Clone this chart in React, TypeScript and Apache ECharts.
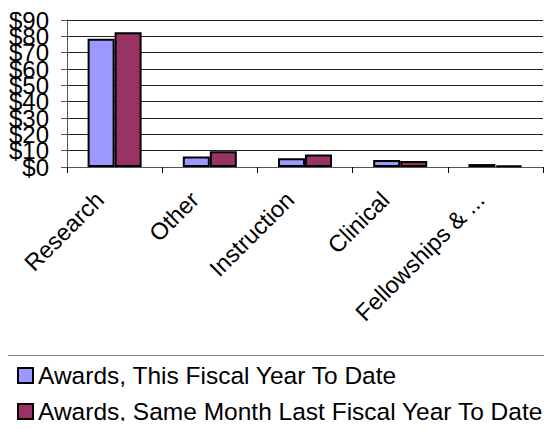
import React, { useEffect, useRef } from "react";
import * as echarts from "echarts";

const categories = ["Research", "Other", "Instruction", "Clinical", "Fellowships & ..."];
const thisYear = [78.5, 6.5, 5.3, 4.3, 1.8];
const lastYear = [82.5, 9.6, 7.7, 3.6, 1.0];
const yTicks = [0, 10, 20, 30, 40, 50, 60, 70, 80, 90];
const seriesNames = ["Awards, This Fiscal Year To Date", "Awards, Same Month Last Fiscal Year To Date"];

const FONT = "'Liberation Sans', Arial, sans-serif";

const yLabel = (even: boolean) => ({
  formatter: (v: number) => ((v / 10) % 2 === 0) === even ? "$" + v : "",
  fontSize: 24,
  color: "#000",
  margin: 18,
  showMinLabel: true,
  showMaxLabel: true,
  fontFamily: FONT,
});

export default function App() {
  const ref = useRef<HTMLDivElement>(null);
  useEffect(() => {
    if (!ref.current) return;
    const chart = echarts.init(ref.current, null, { renderer: "svg" });
    const yBase = {
      type: "value",
      min: yTicks[0],
      max: yTicks[yTicks.length - 1],
      interval: 10,
      position: "left",
    };
    chart.setOption({
      animation: false,
      textStyle: { fontFamily: FONT },
      grid: { left: 67, right: 9, top: 20, bottom: 262 },
      xAxis: {
        type: "category",
        data: categories,
        axisLine: { lineStyle: { color: "#555", width: 1 } },
        axisTick: { show: true, length: 6, lineStyle: { color: "#000" } },
        axisLabel: {
          rotate: 45,
          interval: 0,
          margin: 14,
          padding: [0, 21, 0, 0],
          fontSize: 23.5,
          color: "#000",
          fontFamily: FONT,
        },
      },
      yAxis: [
        {
          ...yBase,
          axisLine: { show: true, lineStyle: { color: "#555", width: 1 } },
          axisTick: { show: true, length: 6, lineStyle: { color: "#555" } },
          splitLine: { show: true, lineStyle: { color: "#222", width: 1 } },
          axisLabel: yLabel(true),
        },
        {
          ...yBase,
          axisLine: { show: false },
          axisTick: { show: false },
          splitLine: { show: false },
          axisLabel: yLabel(false),
        },
      ],
      legend: {
        orient: "vertical",
        left: 17,
        top: 363,
        padding: 0,
        itemWidth: 15,
        itemHeight: 15,
        itemGap: 11,
        itemStyle: { borderColor: "#000", borderWidth: 2 },
        textStyle: { fontSize: 24.5, color: "#000", fontFamily: FONT },
        data: seriesNames.map((n) => ({ name: n, icon: "rect" })),
      },
      graphic: [
        {
          type: "rect",
          shape: { x: 2.5, y: 355.5, width: 600, height: 100 },
          style: { fill: "none", stroke: "#808080", lineWidth: 1 },
          z: -1,
        },
      ],
      series: [
        {
          name: seriesNames[0],
          type: "bar",
          data: thisYear,
          barWidth: 27,
          barGap: "0%",
          itemStyle: { color: "#9999FF", borderColor: "#000", borderWidth: 2 },
        },
        {
          name: seriesNames[1],
          type: "bar",
          data: lastYear,
          barWidth: 27,
          barGap: "0%",
          itemStyle: { color: "#993366", borderColor: "#000", borderWidth: 2 },
        },
      ],
    });
    return () => chart.dispose();
  }, []);
  return <div ref={ref} style={{ width: 552, height: 429, margin: -8 }} />;
}
